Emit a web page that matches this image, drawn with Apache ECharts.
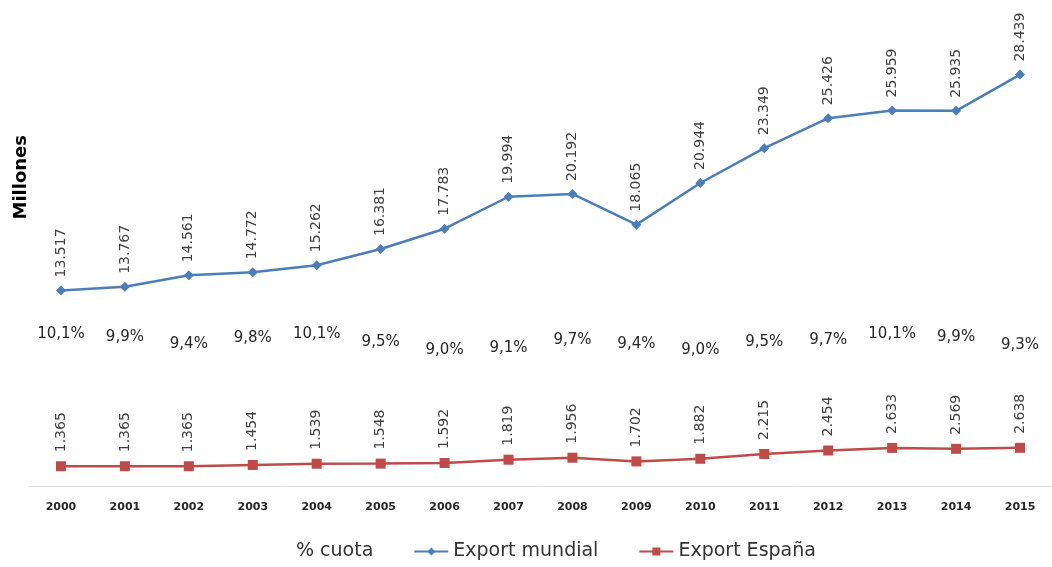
<!DOCTYPE html>
<html>
<head>
<meta charset="utf-8">
<script src="https://cdn.jsdelivr.net/npm/echarts@6/dist/echarts.min.js"></script>
<style>
  html, body { margin: 0; padding: 0; background: #fff; }
  #chart { width: 1052px; height: 567px; }
</style>
</head>
<body>
<div id="chart"></div>
<script>
// datos
const years = ['2000','2001','2002','2003','2004','2005','2006','2007','2008','2009','2010','2011','2012','2013','2014','2015'];
const exportMundial = [13.517,13.767,14.561,14.772,15.262,16.381,17.783,19.994,20.192,18.065,20.944,23.349,25.426,25.959,25.935,28.439];
const exportEspana = [1.365,1.365,1.365,1.454,1.539,1.548,1.592,1.819,1.956,1.702,1.882,2.215,2.454,2.633,2.569,2.638];
const cuota = [10.1,9.9,9.4,9.8,10.1,9.5,9.0,9.1,9.7,9.4,9.0,9.5,9.7,10.1,9.9,9.3];

const fmt3 = v => v.toFixed(3);           // 13.517
const fmtPct = v => v.toFixed(1).replace('.', ',') + '%';   // 10,1%

let myChart = echarts.init(document.getElementById('chart'));
let option = {
  backgroundColor: '#fff',
  animation: false,
  textStyle: { fontFamily: 'DejaVu Sans' },
  grid: { left: 29, right: 0, top: 52, bottom: 81 },
  legend: {
    bottom: 1,
    left: 252,
    itemGap: 40,
    itemWidth: 34,
    itemHeight: 10,
    textStyle: { color: '#333', fontSize: 19, fontFamily: 'DejaVu Sans' },
    data: [
      { name: '% cuota', icon: 'none' },
      { name: 'Export mundial' },
      { name: 'Export España' }
    ]
  },
  graphic: [{
    type: 'text',
    left: 12,
    top: 135,
    rotation: Math.PI / 2,
    style: { text: 'Millones', font: 'bold 18px DejaVu Sans', fill: '#000' }
  }],
  xAxis: {
    type: 'category',
    data: years,
    boundaryGap: true,
    axisTick: { show: false },
    axisLine: { lineStyle: { color: '#d9d9d9', width: 1 } },
    axisLabel: { color: '#262626', fontSize: 11, fontWeight: 'bold', margin: 16 }
  },
  yAxis: {
    type: 'value',
    min: 0,
    max: 30,
    show: false,
    splitLine: { show: false }
  },
  series: [
    {
      name: '% cuota',
      type: 'line',
      data: cuota,
      symbol: 'circle',
      symbolSize: 1,
      lineStyle: { opacity: 0 },
      itemStyle: { color: 'rgba(0,0,0,0)' },
      label: {
        show: true,
        position: 'top',
        distance: -2,
        formatter: p => fmtPct(p.value),
        color: '#262626',
        fontSize: 15
      }
    },
    {
      name: 'Export mundial',
      type: 'line',
      data: exportMundial,
      symbol: 'diamond',
      symbolSize: 10,
      lineStyle: { color: '#4a7ebb', width: 2.5 },
      itemStyle: { color: '#4a7ebb' },
      label: {
        show: true,
        position: 'top',
        distance: 8,
        rotate: 90,
        align: 'left',
        verticalAlign: 'middle',
        formatter: p => fmt3(p.value),
        color: '#404040',
        fontSize: 14
      }
    },
    {
      name: 'Export España',
      type: 'line',
      data: exportEspana,
      symbol: 'rect',
      symbolSize: 10,
      lineStyle: { color: '#be4b48', width: 2.5 },
      itemStyle: { color: '#be4b48' },
      label: {
        show: true,
        position: 'top',
        distance: 9,
        rotate: 90,
        align: 'left',
        verticalAlign: 'middle',
        formatter: p => fmt3(p.value),
        color: '#404040',
        fontSize: 14
      }
    }
  ]
};
myChart.setOption(option);
</script>
</body>
</html>
